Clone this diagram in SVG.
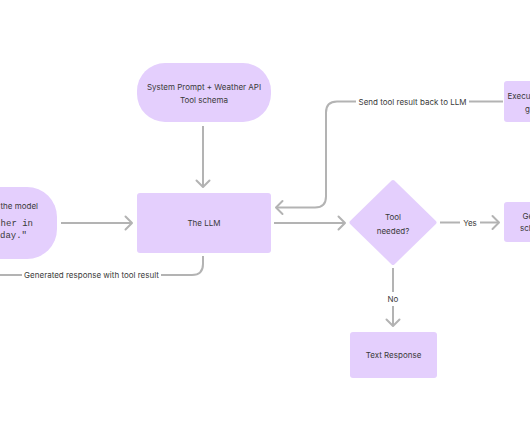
<svg xmlns="http://www.w3.org/2000/svg" width="530" height="442" viewBox="0 0 530 442">
<defs>
<marker id="arr" markerUnits="userSpaceOnUse" markerWidth="16" markerHeight="16" refX="7" refY="7" orient="auto" overflow="visible">
<path d="M0.5,0.5 L7,7 L0.5,13.5" fill="none" stroke="#b3b3b3" stroke-width="2" stroke-linecap="round" stroke-linejoin="round"/>
</marker>
<style>
.n{fill:#e4cffd}
.t{font-family:Inter,"Liberation Sans",sans-serif;font-size:8px;fill:#3a3a3a;text-anchor:middle}
.m{font-family:"Liberation Mono","DejaVu Sans Mono",monospace;font-size:9px;fill:#3a3a3a}
.c{fill:none;stroke:#b3b3b3;stroke-width:2}
.bg{fill:#ffffff}
</style>
</defs>
<rect width="530" height="442" fill="#ffffff"/>
<g id="connectors">
<path class="c" d="M203,126 V187" marker-end="url(#arr)"/>
<path class="c" d="M61,223 H132" marker-end="url(#arr)"/>
<path class="c" d="M274,223 H345" marker-end="url(#arr)"/>
<path class="c" d="M440,222.5 H499" marker-end="url(#arr)"/>
<rect class="bg" x="460" y="216" width="20" height="13"/>
<text class="t" x="470" y="225.5">Yes</text>
<path class="c" d="M393,268 V326" marker-end="url(#arr)"/>
<rect class="bg" x="385" y="292" width="16" height="14"/>
<text class="t" x="393" y="302">No</text>
<path class="c" d="M503,101.5 H337 Q326,101.5 326,112.5 V196.5 Q326,207.5 315,207.5 H276" marker-end="url(#arr)"/>
<rect class="bg" x="356" y="95" width="113" height="13"/>
<text class="t" x="412.5" y="104.5">Send tool result back to LLM</text>
<path class="c" d="M203,256 V264 Q203,275 192,275 H0"/>
<rect class="bg" x="22" y="268" width="139" height="13"/>
<text class="t" x="91.5" y="278">Generated response with tool result</text>
</g>
<g id="node-user">
<rect class="n" x="-60" y="187" width="117" height="72" rx="30"/>
<text class="t" x="38" y="209" style="text-anchor:end">the model</text>
<text class="m" x="33" y="225.5" text-anchor="end">ther in</text>
<text class="m" x="27" y="238" text-anchor="end">day."</text>
</g>
<g id="node-system">
<rect class="n" x="137" y="63" width="134" height="59" rx="28"/>
<text class="t" x="204" y="89.5">System Prompt + Weather API</text>
<text class="t" x="204" y="103">Tool schema</text>
</g>
<g id="node-llm">
<rect class="n" x="137" y="193" width="134" height="60" rx="3"/>
<text class="t" x="204" y="226">The LLM</text>
</g>
<g id="node-decision">
<polygon class="n" points="393,182 434.5,222.5 393,263 351.5,222.5" stroke="#e4cffd" stroke-width="4" stroke-linejoin="round"/>
<text class="t" x="393" y="220">Tool</text>
<text class="t" x="393" y="234">needed?</text>
</g>
<g id="node-text-response">
<rect class="n" x="350" y="332" width="87" height="46" rx="3"/>
<text class="t" x="393.5" y="358">Text Response</text>
</g>
<g id="node-execute">
<rect class="n" x="504" y="81" width="60" height="41" rx="3"/>
<text class="t" x="507.5" y="99" style="text-anchor:start">Execu</text>
<text class="t" x="525" y="112" style="text-anchor:start">g</text>
</g>
<g id="node-generate">
<rect class="n" x="504" y="202" width="60" height="40" rx="3"/>
<text class="t" x="522.5" y="219" style="text-anchor:start">Ge</text>
<text class="t" x="520" y="231" style="text-anchor:start">sch</text>
</g>
</svg>
